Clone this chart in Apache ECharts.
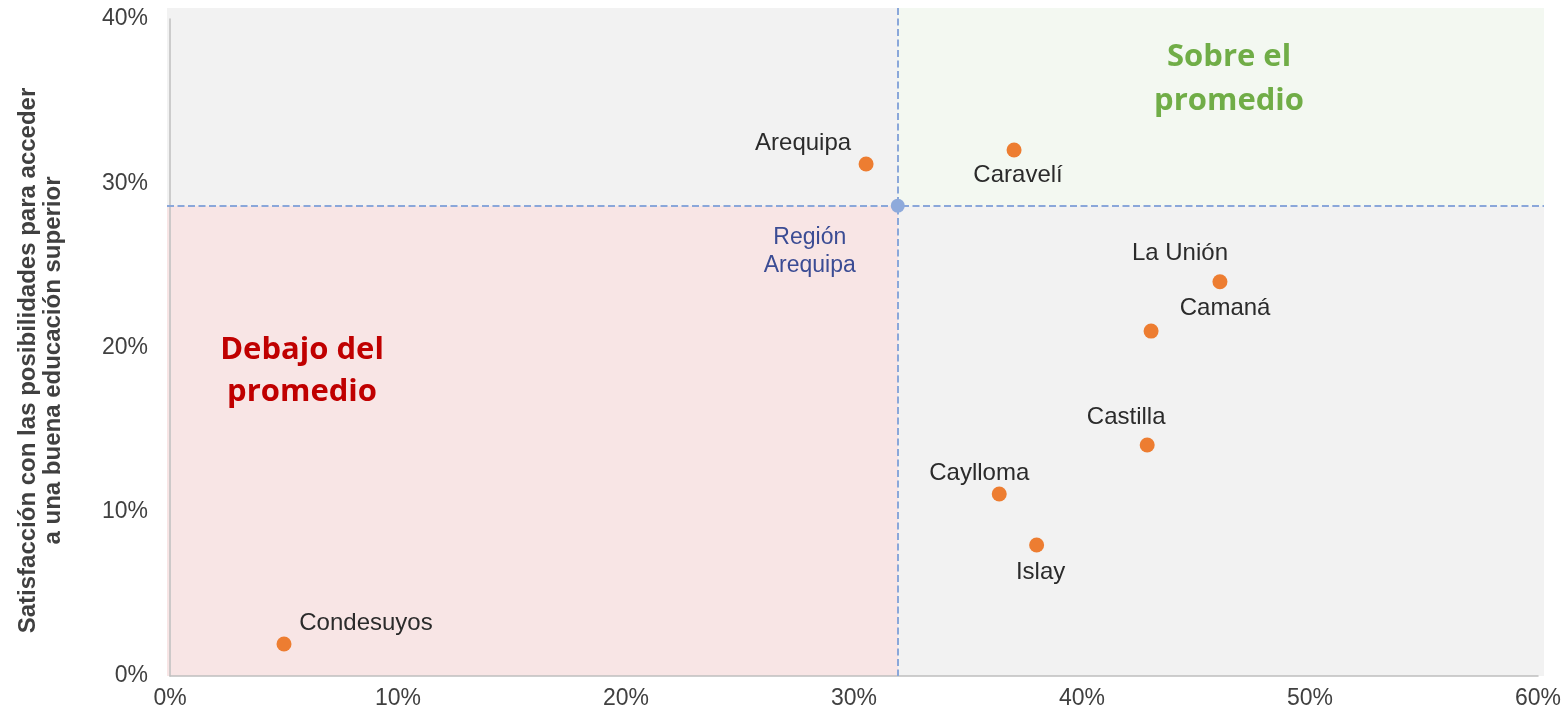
<!DOCTYPE html>
<html><head><meta charset="utf-8">
<script src="https://cdn.jsdelivr.net/npm/echarts@6/dist/echarts.min.js"></script>
<style>html,body{margin:0;padding:0;background:#fff}#c{width:1568px;height:718px}</style>
</head><body><div id="c"></div>
<script>
// ---- data ----
const provinces = ['Arequipa', 'Caravelí', 'La Unión', 'Camaná', 'Castilla', 'Caylloma', 'Islay', 'Condesuyos'];
const xValues = [30.53, 37.02, 46.05, 43.03, 42.86, 36.37, 38.01, 5.0];
const yValues = [31.17, 32.02, 24.0, 21.0, 14.06, 11.08, 7.98, 1.95];
const regionName = 'Región\nArequipa';
const regionX = 31.92;
const regionY = 28.63;
const xAxisRange = [0, 60];
const yAxisRange = [0, 40];
const tickStep = 10;
const yAxisTitle = 'Satisfacción con las posibilidades para acceder\na una buena educación superior';
const aboveText = 'Sobre el\npromedio';
const belowText = 'Debajo del\npromedio';

// ---- label placement (style, not data) ----
const labelOffsets = [[-63, -21], [4, 25], [-40, -28], [74, -23], [-21, -28], [-20, -21], [4, 27], [82, -21]];

const chart = echarts.init(document.getElementById('c'));
const font = '"Liberation Sans", Arial, sans-serif';

const pointData = provinces.map((n, i) => ({
  name: n,
  value: [xValues[i], yValues[i]],
  label: { offset: labelOffsets[i] }
}));

chart.setOption({
  animation: false,
  grid: { left: 170, right: 30, top: 19, bottom: 42, containLabel: false },
  xAxis: {
    type: 'value', min: xAxisRange[0], max: xAxisRange[1], interval: tickStep,
    axisLine: { show: true, lineStyle: { color: '#bfbfbf', width: 1.5 } },
    axisTick: { show: false },
    splitLine: { show: false },
    axisLabel: { formatter: '{value}%', fontSize: 23, color: '#404040', fontFamily: font, margin: 11 }
  },
  yAxis: {
    type: 'value', min: yAxisRange[0], max: yAxisRange[1], interval: tickStep,
    axisLine: { show: true, lineStyle: { color: '#bfbfbf', width: 1.5 } },
    axisTick: { show: false },
    splitLine: { show: false },
    axisLabel: { formatter: '{value}%', fontSize: 23, color: '#404040', fontFamily: font, margin: 22, padding: [6, 0, 0, 0] },
    name: yAxisTitle, nameLocation: 'middle', nameGap: 104,
    nameTextStyle: { fontSize: 24, fontWeight: 'bold', color: '#404040', fontFamily: font, lineHeight: 25, padding: [0, 26, 0, 0] }
  },
  series: [
    {
      type: 'scatter', z: 5,
      symbolSize: 15,
      itemStyle: { color: '#ed7d31', opacity: 1 },
      label: {
        show: true, position: 'inside', formatter: '{b}',
        fontSize: 24, color: '#2b2b2b', fontFamily: font, align: 'center', verticalAlign: 'middle'
      },
      data: pointData
    },
    {
      type: 'scatter', z: 5,
      symbolSize: 14,
      itemStyle: { color: '#8eaadb', opacity: 1 },
      label: {
        show: true, position: 'inside', formatter: regionName, offset: [-88, 46],
        fontSize: 23, lineHeight: 28, color: '#3b4c94', fontFamily: font, align: 'center', verticalAlign: 'middle'
      },
      data: [{ name: 'Región Arequipa', value: [regionX, regionY] }]
    }
  ]
});

// Quadrant backgrounds and reference lines, positioned through the chart's scales
const p = chart.convertToPixel({ gridIndex: 0 }, [regionX, regionY]).map(Math.round);
const tl = chart.convertToPixel({ gridIndex: 0 }, [xAxisRange[0], yAxisRange[1]]);
const br = chart.convertToPixel({ gridIndex: 0 }, [xAxisRange[1], yAxisRange[0]]);
const L = tl[0] - 3, T = tl[1] - 11, R = br[0] + 6, B = br[1];
const dash = { stroke: '#8aa7da', lineWidth: 2, lineDash: [7, 3.5] };
const titleFont = 'bold 31px "Open Sans", "Noto Sans", sans-serif';
const a = chart.convertToPixel({ gridIndex: 0 }, [46.45, 36.35]);
const b = chart.convertToPixel({ gridIndex: 0 }, [5.79, 18.57]);

chart.setOption({
  graphic: { elements: [
    { type: 'rect', z: -10, silent: true, shape: { x: L, y: T, width: p[0] - L, height: p[1] - T }, style: { fill: '#f2f2f2' } },
    { type: 'rect', z: -10, silent: true, shape: { x: p[0], y: T, width: R - p[0], height: p[1] - T }, style: { fill: '#f3f8f1' } },
    { type: 'rect', z: -10, silent: true, shape: { x: L, y: p[1], width: p[0] - L, height: B - p[1] }, style: { fill: '#f8e5e5' } },
    { type: 'rect', z: -10, silent: true, shape: { x: p[0], y: p[1], width: R - p[0], height: B - p[1] }, style: { fill: '#f2f2f2' } },
    { type: 'line', z: 1, silent: true, shape: { x1: L, y1: p[1], x2: R, y2: p[1] }, style: dash },
    { type: 'line', z: 1, silent: true, shape: { x1: p[0], y1: T, x2: p[0], y2: B }, style: dash },
    { type: 'text', z: 2, silent: true, x: a[0], y: a[1], style: { text: aboveText, font: titleFont, fill: '#70ad47', align: 'center', verticalAlign: 'middle', lineHeight: 44 } },
    { type: 'text', z: 2, silent: true, x: b[0], y: b[1], style: { text: belowText, font: titleFont, fill: '#c00000', align: 'center', verticalAlign: 'middle', lineHeight: 42 } }
  ] }
});
</script>
</body></html>
